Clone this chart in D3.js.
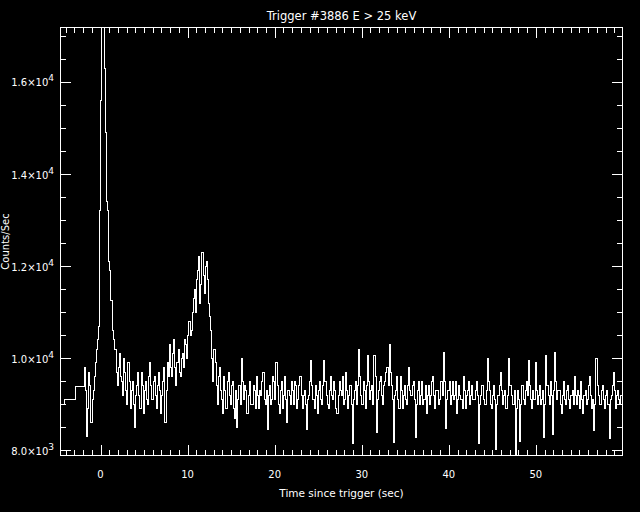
<!DOCTYPE html>
<html><head><meta charset="utf-8">
<script src="https://cdn.jsdelivr.net/npm/d3@7/dist/d3.min.js"></script>
<style>html,body{margin:0;padding:0;background:#000;}svg{display:block;}</style>
</head><body>
<script>
// ---- data ----
const titleText = "Trigger #3886 E > 25 keV";
const xLabel = "Time since trigger (sec)";
const yLabel = "Counts/Sec";
// coarse pre-trigger bins (start times) and counts
const preTimes = [-4.6, -4.17, -2.82];
const preCounts = [8990, 9100, 9390];
// fine bins after -1.85 s, 0.125 s wide
const fineStart = -1.85;
const fineBin = 0.125;
const fineCounts = [
 9800, 9300, 8300, 8900, 9700, 9400, 8600, 9100, 9300, 9600, 9900, 10200, 10400, 10700, 13200, 15600, 18000, 18000, 16300, 14900,
 13400, 13200, 12100, 11900, 11260, 11260, 10600, 10400, 10200, 9700, 9400, 9800, 10100, 9600, 9500, 9200, 10000, 9700, 9300, 9000,
 9900, 9500, 8900, 9300, 9500, 9000, 8500, 9200, 9400, 9700, 9200, 8900, 9700, 9400, 8800, 9300, 9500, 9100, 9000, 9600,
 9900, 9400, 9100, 9500, 9600, 9200, 8900, 9400, 9700, 9300, 8800, 9200, 9500, 9800, 8600, 9300, 9900, 9600, 10300, 9800,
 9600, 10100, 10400, 9800, 9400, 9900, 10200, 9700, 9600, 10000, 10100, 9800, 10400, 10300, 10000, 10500, 10800, 10500, 10600, 11000,
 11300, 11500, 11000, 11700, 11900, 12200, 11200, 11600, 12300, 11800, 11400, 12000, 12100, 11700, 11200, 10900, 10600, 10000, 9500, 10200,
 9900, 9400, 9000, 9600, 9800, 9300, 9100, 8800, 9600, 9300, 8900, 9500, 9700, 9200, 9000, 9400, 9500, 8900, 8700, 9300,
 8500, 9100, 9400, 9000, 10000, 9500, 9100, 9400, 9300, 8800, 8800, 9200, 9500, 9000, 9000, 9400, 9300, 8900, 9600, 9200,
 8900, 9300, 9200, 9500, 9700, 9100, 9000, 9300, 8450, 9200, 9400, 9000, 9100, 9600, 9500, 9100, 9900, 9400, 9000, 8800,
 9300, 9500, 8900, 9200, 9600, 9100, 8600, 9300, 9200, 9000, 9500, 9300, 9000, 9500, 9400, 8900, 9100, 9400, 9600, 9200,
 8900, 9200, 9300, 9000, 8450, 9100, 9200, 9500, 9950, 9400, 9100, 8900, 9400, 9200, 8800, 9300, 9500, 9100, 9000, 9400,
 9950, 9500, 9200, 9000, 8900, 9300, 9600, 9200, 9100, 9500, 9300, 8900, 8800, 9200, 9500, 9300, 9200, 9600, 9000, 9100,
 9700, 9300, 8900, 9200, 9400, 9000, 8150, 9100, 9300, 9500, 9000, 9400, 10200, 9600, 9200, 9000, 9500, 9300, 8900, 9400,
 10050, 9500, 9100, 9300, 9400, 9000, 10050, 9600, 8380, 9100, 9300, 9500, 9600, 9200, 9000, 9400, 9500, 9700, 9800, 9400,
 10300, 9700, 9400, 9100, 8170, 9200, 9300, 9600, 9100, 8900, 9600, 9300, 8900, 9200, 9400, 9100, 9000, 9400, 9800, 9300,
 9200, 9400, 9500, 9100, 8280, 9000, 9300, 9500, 9000, 9200, 9500, 9000, 9100, 9400, 8800, 9200, 9400, 9000, 9200, 9500,
 9600, 9200, 8900, 9300, 9300, 9000, 9100, 9500, 9500, 9200, 10130, 9500, 8480, 9100, 9300, 9500, 9000, 9200, 9500, 9100,
 9200, 9500, 8800, 9100, 9400, 9200, 9100, 8900, 9600, 9300, 8900, 9200, 9300, 9500, 9000, 9200, 9400, 9100, 9100, 9300,
 9500, 9200, 8150, 9000, 9200, 9400, 9400, 9100, 9000, 9300, 10000, 9500, 9300, 9000, 8900, 9200, 9400, 9100, 8020, 9000,
 9200, 9400, 9700, 9300, 9000, 9200, 9300, 8900, 8900, 9200, 10000, 9400, 9200, 9000, 9000, 9300, 7800, 8900, 9300, 9100,
 8200, 9000, 9400, 9100, 9000, 9300, 9500, 9200, 9950, 9400, 9100, 8900, 9300, 9100, 9900, 9300, 9000, 9200, 9400, 9000,
 9100, 9300, 8280, 9000, 10050, 9400, 9200, 9000, 9500, 9200, 8350, 9300, 10130, 9500, 9100, 9300, 9300, 9000, 8800, 9200,
 9500, 9100, 9000, 9300, 9400, 9100, 8900, 9200, 9300, 9000, 9600, 9200, 9000, 9300, 9200, 8900, 9500, 9100, 8800, 9200,
 9300, 9000, 9100, 9400, 9600, 9200, 8900, 9100, 8430, 9000, 10000, 9400, 9200, 9000, 9000, 9300, 9400, 9100, 8900, 9200,
 9300, 9000, 8250, 9100, 9200, 9400, 9700, 9300, 8900, 9200, 9300, 9100, 9000, 9200
];
const xMajorTicks = [0, 10, 20, 30, 40, 50];
const xTickLabels = ["0", "10", "20", "30", "40", "50"];
const yMajorTicks = [8000, 10000, 12000, 14000, 16000];
const yTickMantissa = ["8.0", "1.0", "1.2", "1.4", "1.6"];
const yTickExponent = ["3", "4", "4", "4", "4"];

// ---- layout ----
const W = 640, H = 512;
const L = 60.5, R = 622.5, T = 27.5, B = 455.5;
const font = "'DejaVu Sans', sans-serif";

const svg = d3.select("body").append("svg").attr("width", W).attr("height", H)
  .style("background", "#000");
svg.append("rect").attr("width", W).attr("height", H).attr("fill", "#000");

const x = d3.scaleLinear().domain([-4.6, 59.95]).range([L, R]);
const y = d3.scaleLinear().domain([7890, 17180]).range([B, T]);

// data points
const pts = [];
preTimes.forEach((t, i) => pts.push([t, preCounts[i]]));
fineCounts.forEach((v, i) => pts.push([fineStart + i * fineBin, v]));
pts.push([fineStart + fineCounts.length * fineBin, fineCounts[fineCounts.length - 1]]);

svg.append("clipPath").attr("id", "clip").append("rect")
  .attr("x", L).attr("y", T).attr("width", R - L).attr("height", B - T);

const line = d3.line().x(d => x(d[0])).y(d => y(d[1])).curve(d3.curveStepAfter);
svg.append("path").datum(pts).attr("d", line)
  .attr("fill", "none").attr("stroke", "#fff").attr("stroke-width", 1)
  .attr("clip-path", "url(#clip)").attr("shape-rendering", "crispEdges");

// box
svg.append("rect").attr("x", L).attr("y", T).attr("width", R - L).attr("height", B - T)
  .attr("fill", "none").attr("stroke", "#fff").attr("stroke-width", 1).attr("shape-rendering", "crispEdges");

const g = svg.append("g").attr("stroke", "#fff").attr("stroke-width", 1).attr("shape-rendering", "crispEdges");
const majLen = 10.5, minLen = 5.5;
// x ticks
const xMinor = d3.range(-4, 60, 1);
xMinor.forEach(t => {
  const len = (t % 10 === 0) ? majLen : minLen;
  const px = Math.round(x(t)) + 0.5;
  g.append("line").attr("x1", px).attr("x2", px).attr("y1", B).attr("y2", B - len);
  g.append("line").attr("x1", px).attr("x2", px).attr("y1", T).attr("y2", T + len);
});
// y ticks
const yMinor = d3.range(8000, 17001, 500);
yMinor.forEach(v => {
  const len = (v % 2000 === 0) ? majLen : minLen;
  const py = Math.round(y(v)) + 0.5;
  g.append("line").attr("x1", L).attr("x2", L + len).attr("y1", py).attr("y2", py);
  g.append("line").attr("x1", R).attr("x2", R - len).attr("y1", py).attr("y2", py);
});

// x tick labels
xMajorTicks.forEach((t, i) => {
  svg.append("text").attr("x", x(t)).attr("y", 478).attr("text-anchor", "middle")
    .attr("fill", "#fff").attr("font-family", font).attr("font-size", 10).text(xTickLabels[i]);
});
// y tick labels
yMajorTicks.forEach((v, i) => {
  const t = svg.append("text").attr("x", 54).attr("y", y(v) + 4.5).attr("text-anchor", "end")
    .attr("fill", "#fff").attr("font-family", font).attr("font-size", 10);
  t.append("tspan").text(yTickMantissa[i] + "\u00d710");
  t.append("tspan").attr("dy", -5).attr("font-size", 9).text(yTickExponent[i]);
});

// titles
svg.append("text").attr("x", (L + R) / 2).attr("y", 19.5).attr("text-anchor", "middle")
  .attr("fill", "#fff").attr("font-family", font).attr("font-size", 11.5).text(titleText);
svg.append("text").attr("x", (L + R) / 2).attr("y", 497).attr("text-anchor", "middle")
  .attr("fill", "#fff").attr("font-family", font).attr("font-size", 10.5).text(xLabel);
svg.append("text").attr("transform", `translate(8.5,${(T + B) / 2}) rotate(-90)`).attr("text-anchor", "middle")
  .attr("fill", "#fff").attr("font-family", font).attr("font-size", 10).text(yLabel);
</script>
</body></html>
